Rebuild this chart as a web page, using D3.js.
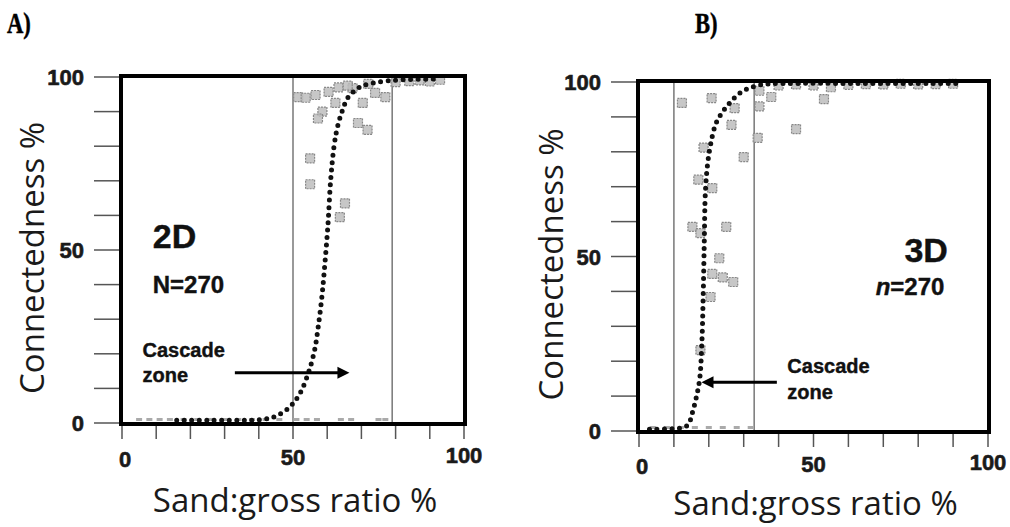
<!DOCTYPE html>
<html lang="en">

<head>
    <meta charset="UTF-8" />
    <title>Connectedness vs sand:gross ratio</title>
    <script src="https://cdnjs.cloudflare.com/ajax/libs/d3/7.8.5/d3.min.js"></script>
    <style>
        body {
            margin: 0;
            padding: 0;
            background: #fff;
        }

        .tick-label {
            font-family: 'Liberation Sans', Arial, sans-serif;
            font-weight: bold;
            font-size: 22px;
            fill: #1a1a1a;
            stroke: #1a1a1a;
            stroke-width: 0.6px;
        }

        .axis-title {
            font-family: 'Open Sans', 'DejaVu Sans', sans-serif;
            font-size: 33px;
            fill: #1a1a1a;
        }

        .note {
            font-family: 'Liberation Sans', Arial, sans-serif;
            font-weight: bold;
            fill: #111;
            stroke: #111;
            stroke-width: 0.4px;
        }

        .panel-letter {
            font-family: 'Liberation Serif', 'Times New Roman', serif;
            font-weight: bold;
            font-size: 29px;
            fill: #000;
            stroke: #000;
            stroke-width: 0.5px;
        }
    </style>
</head>

<body>
    <svg id="chart" width="1010" height="527"></svg>

    <script>
        // ---- data ----
        const tickValues = [0, 10, 20, 30, 40, 50, 60, 70, 80, 90, 100];
        const tickLabels = [0, 50, 100];

        // 2D panel
        const cutoffA = [50, 79];
        const curveA = [[16, 0.8], [25, 0.8], [35, 0.8], [41, 1], [45, 2], [49, 4.6], [52, 8.5], [54.5, 14.5],
            [56.3, 21], [57.4, 28], [58.5, 37], [59.4, 47], [60.2, 57], [61, 70], [62, 80], [63, 85.5],
            [64.5, 90.5], [66, 94], [68, 96], [70, 97.3], [73, 98.2], [77, 98.8], [82, 99.2], [92, 99.4]];
        const pointsA = [[51.5, 94.2], [53.7, 94], [56.6, 94.8], [58.6, 90], [57.3, 88], [60.4, 95.7],
            [62.4, 92.5], [63.3, 97], [67.4, 96.8], [70.4, 92.5], [74, 95.4], [77, 94.2], [69, 86.7],
            [71.8, 84.7], [55, 76.5], [55, 69], [65.2, 63.5], [63.7, 59.5], [66, 97.5], [72, 98],
            [80, 98.5], [84, 98.8], [87, 99], [90, 98.7], [93, 99.2]];
        const baseA = [5, 8, 11, 14, 18, 22, 26, 30, 34, 38, 42, 46, 51, 54, 57, 64, 67, 75, 77];

        // 3D panel
        const cutoffB = [10, 33];
        const curveB = [[3, 0.5], [9, 0.6], [12, 0.9], [14, 1.7], [15.5, 6], [16.5, 10], [17.4, 15],
            [18, 25], [18.4, 39], [18.7, 54], [19, 68], [19.6, 76], [20.5, 82], [22, 88], [24, 91.5],
            [26, 94], [28.5, 96.5], [31, 98], [34, 99], [37.5, 99.5], [45, 99.6], [60, 99.6], [92, 99.6]];
        const pointsB = [[12.3, 94], [20.8, 95.4], [27.4, 92.5], [26.5, 87.7], [34.5, 97.5], [34.5, 93],
            [37.9, 95.7], [53, 95.1], [45, 86.5], [34, 84], [18.5, 81.2], [30, 78.5], [17, 72],
            [21, 69.6], [15.3, 58.5], [17.6, 56.7], [25, 58.5], [23, 49.5], [21, 45], [24, 44],
            [27, 42.7], [20.5, 38.4], [17.6, 23.2], [40, 99], [45, 99.3], [50, 99], [55, 98.5],
            [60, 99.2], [65, 99.4], [70, 99.3], [75, 99.5], [80, 99.3], [85, 99.4], [90, 99.5]];
        const baseB = [4, 8, 12, 16, 20, 24, 28, 32];

        const svg = d3.select("#chart");

        function drawPanel(opt) {
            const x = d3.scaleLinear().domain([0, 100]).range(opt.xRange);
            const y = d3.scaleLinear().domain([0, 100]).range(opt.yRange);
            const g = svg.append("g");

            // y ticks (outside, to the left)
            g.append("g")
                .selectAll("line")
                .data(tickValues)
                .join("line")
                .attr("x1", x(0) - 28)
                .attr("x2", x(0))
                .attr("y1", d => y(d))
                .attr("y2", d => y(d))
                .attr("stroke", "#555")
                .attr("stroke-width", 1.5);

            g.append("g")
                .selectAll("text")
                .data(tickLabels)
                .join("text")
                .attr("class", "tick-label")
                .attr("x", x(0) - 38)
                .attr("y", d => y(d) + 8)
                .attr("text-anchor", "end")
                .text(d => d);

            // x ticks (outside, below)
            g.append("g")
                .selectAll("line")
                .data(tickValues)
                .join("line")
                .attr("x1", d => x(d))
                .attr("x2", d => x(d))
                .attr("y1", y(0))
                .attr("y2", y(0) + 16)
                .attr("stroke", "#555")
                .attr("stroke-width", 1.5);

            g.append("g")
                .selectAll("text")
                .data(tickLabels)
                .join("text")
                .attr("class", "tick-label")
                .attr("x", d => x(d) + (d === 0 ? 3 : 0))
                .attr("y", d => y(0) + opt.xLabelDy - (d / 25))
                .attr("text-anchor", "middle")
                .text(d => d);

            // cascade zone cut-off lines
            g.append("g")
                .selectAll("line")
                .data(opt.cutoffs)
                .join("line")
                .attr("x1", d => x(d))
                .attr("x2", d => x(d))
                .attr("y1", y(0))
                .attr("y2", y(100))
                .attr("stroke", "#777")
                .attr("stroke-width", 1.5);

            // base-line points (tiny marks at 0)
            g.append("g")
                .selectAll("rect")
                .data(opt.base)
                .join("rect")
                .attr("x", d => x(d) - 3)
                .attr("y", y(0) - 5)
                .attr("width", 6)
                .attr("height", 3)
                .attr("fill", "#aaa");

            // scatter points
            g.append("g")
                .selectAll("rect")
                .data(opt.points)
                .join("rect")
                .attr("x", d => x(d[0]) - 4.5)
                .attr("y", d => y(d[1]) - 4.5)
                .attr("width", 9)
                .attr("height", 9)
                .attr("fill", "#bdbdbd")
                .attr("fill-opacity", 0.85)
                .attr("stroke", "#888")
                .attr("stroke-width", 1.2)
                .attr("stroke-dasharray", "2,1");

            // dotted fitted curve
            const line = d3.line()
                .x(d => x(d[0]))
                .y(d => y(d[1]))
                .curve(d3.curveCatmullRom.alpha(0.5));

            g.append("path")
                .datum(opt.curve)
                .attr("d", line)
                .attr("fill", "none")
                .attr("stroke", "#111")
                .attr("stroke-width", 5)
                .attr("stroke-linecap", "round")
                .attr("stroke-dasharray", "0,7.5");

            // frame
            g.append("rect")
                .attr("x", x(0) - 1)
                .attr("y", y(100) - 1)
                .attr("width", x(100) - x(0) + 2)
                .attr("height", y(0) - y(100) + 2)
                .attr("fill", "none")
                .attr("stroke", "#000")
                .attr("stroke-width", 4);

            // axis titles
            const cx = (x(0) + x(100)) / 2;
            g.append("text")
                .attr("class", "axis-title")
                .attr("x", cx + 2)
                .attr("y", opt.xTitleY)
                .attr("text-anchor", "middle")
                .text("Sand:gross ratio %");

            const cy = (y(0) + y(100)) / 2 + 8;
            g.append("text")
                .attr("class", "axis-title")
                .attr("transform", `translate(${opt.yTitleX},${cy}) rotate(-90)`)
                .attr("text-anchor", "middle")
                .text("Connectedness %");

            return { x, y, g };
        }

        function arrow(g, x1, x2, yy) {
            const dir = Math.sign(x2 - x1);
            g.append("line")
                .attr("x1", x1)
                .attr("x2", x2 - dir * 8)
                .attr("y1", yy)
                .attr("y2", yy)
                .attr("stroke", "#000")
                .attr("stroke-width", 3);
            g.append("path")
                .attr("d", `M${x2},${yy}L${x2 - dir * 12},${yy - 6}L${x2 - dir * 12},${yy + 6}Z`)
                .attr("fill", "#000");
        }

        // ---- panel A (2D) ----
        const A = drawPanel({
            xRange: [122, 464], yRange: [423, 77],
            cutoffs: cutoffA, curve: curveA, points: pointsA, base: baseA,
            xLabelDy: 44, xTitleY: 512, yTitleX: 44
        });

        A.g.append("text").attr("class", "note").attr("x", A.x(9)).attr("y", A.y(50.5))
            .attr("font-size", 34).text("2D");
        A.g.append("text").attr("class", "note").attr("x", A.x(9)).attr("y", A.y(37.5))
            .attr("font-size", 24).text("N=270");
        A.g.append("text").attr("class", "note").attr("x", A.x(6)).attr("y", A.y(19.1))
            .attr("font-size", 20).text("Cascade");
        A.g.append("text").attr("class", "note").attr("x", A.x(6)).attr("y", A.y(11.8))
            .attr("font-size", 20).text("zone");
        arrow(A.g, A.x(33), A.x(66.5), A.y(14.5));

        // ---- panel B (3D) ----
        const B = drawPanel({
            xRange: [639, 988], yRange: [431, 82],
            cutoffs: cutoffB, curve: curveB, points: pointsB, base: baseB,
            xLabelDy: 43, xTitleY: 515, yTitleX: 563
        });

        B.g.append("text").attr("class", "note").attr("x", B.x(88.5)).attr("y", B.y(48.3))
            .attr("font-size", 34).attr("text-anchor", "end").text("3D");
        const nText = B.g.append("text").attr("class", "note").attr("x", B.x(87.5)).attr("y", B.y(39))
            .attr("font-size", 24).attr("text-anchor", "end");
        nText.append("tspan").attr("font-style", "italic").text("n");
        nText.append("tspan").text("=270");
        B.g.append("text").attr("class", "note").attr("x", B.x(42.5)).attr("y", B.y(16.5))
            .attr("font-size", 20).text("Cascade");
        B.g.append("text").attr("class", "note").attr("x", B.x(42.5)).attr("y", B.y(9.3))
            .attr("font-size", 20).text("zone");
        arrow(B.g, B.x(39.5), B.x(17.9), B.y(14));

        // panel letters
        svg.append("text").attr("class", "panel-letter")
            .attr("transform", "translate(7,33) scale(0.78,1)").text("A)");
        svg.append("text").attr("class", "panel-letter")
            .attr("transform", "translate(695,33) scale(0.78,1)").text("B)");
    </script>
</body>

</html>
